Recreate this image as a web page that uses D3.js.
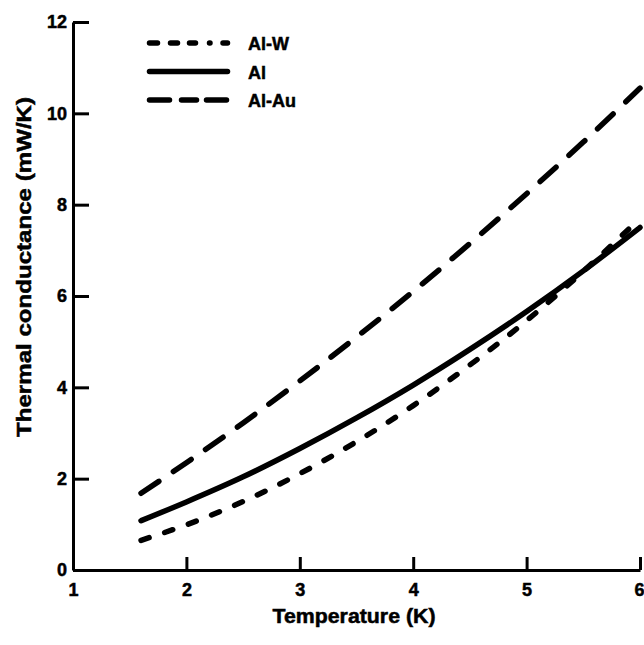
<!DOCTYPE html>
<html>
<head>
<meta charset="utf-8">
<script src="https://cdn.jsdelivr.net/npm/d3@7"></script>
<style>
  body { margin: 0; background: #fff; }
  text { font-family: "Liberation Sans", Arial, sans-serif; font-weight: bold; fill: #000; stroke: #000; stroke-width: 0.5px; }
</style>
</head>
<body>
<div id="chart"></div>
<script>
// values
var temps   = [1.6, 2, 2.5, 3, 3.5, 4, 4.5, 5, 5.5, 6];
var alW     = [0.65, 0.99, 1.5, 2.11, 2.81, 3.6, 4.49, 5.46, 6.54, 7.7];
var al      = [1.08, 1.49, 2.04, 2.66, 3.33, 4.05, 4.83, 5.66, 6.55, 7.5];
var alAu    = [1.68, 2.35, 3.22, 4.14, 5.1, 6.1, 7.15, 8.24, 9.37, 10.55];
var seriesNames = ["Al-W", "Al", "Al-Au"];
var xTicks = [1, 2, 3, 4, 5, 6];
var yTicks = [0, 2, 4, 6, 8, 10, 12];

var width = 644, height = 645;
var svg = d3.select("#chart").append("svg").attr("width", width).attr("height", height);

var x = d3.scaleLinear().domain([1, 6]).range([73, 640]);
var y = d3.scaleLinear().domain([0, 12]).range([570, 22]);

// axes, ticks point inward
var xAxis = d3.axisBottom(x).tickValues(xTicks).tickSizeInner(-13).tickSizeOuter(0).tickPadding(9).tickFormat(d3.format("d"));
var yAxis = d3.axisLeft(y).tickValues(yTicks).tickSizeInner(-16).tickSizeOuter(0).tickPadding(6).tickFormat(d3.format("d"));

var gx = svg.append("g").attr("transform", "translate(0," + y(0) + ")").call(xAxis);
var gy = svg.append("g").attr("transform", "translate(" + x(1) + ",0)").call(yAxis);

[gx, gy].forEach(function(g) {
  g.select(".domain").attr("stroke", "#000").attr("stroke-width", 3);
  g.selectAll(".tick line").attr("stroke", "#000").attr("stroke-width", 3);
  g.selectAll(".tick text").style("font-size", "18px").style("font-family", "'Liberation Sans', Arial, sans-serif").style("font-weight", "bold").attr("fill", "#000");
});
gx.selectAll(".tick text").attr("dy", "0.95em");
// last label sits at the right edge
gx.selectAll(".tick text").filter(function(d) { return d === 6; }).attr("text-anchor", "end").attr("x", 4);

// axis titles
svg.append("text")
  .attr("x", 354).attr("y", 623)
  .attr("text-anchor", "middle")
  .attr("textLength", 163).attr("lengthAdjust", "spacingAndGlyphs")
  .style("font-size", "20px")
  .text("Temperature (K)");

svg.append("text")
  .attr("transform", "translate(31,267) rotate(-90)")
  .attr("text-anchor", "middle")
  .attr("textLength", 340).attr("lengthAdjust", "spacingAndGlyphs")
  .style("font-size", "20px")
  .text("Thermal conductance (mW/K)");

// curves
var line = d3.line()
  .x(function(d) { return x(d[0]); })
  .y(function(d) { return y(d[1]); })
  .curve(d3.curveMonotoneX);

var curves = [
  { name: seriesNames[0], vals: alW,  dash: "8.5,16.5" },
  { name: seriesNames[1], vals: al,   dash: null },
  { name: seriesNames[2], vals: alAu, dash: "21.5,17.5" }
];

curves.forEach(function(c) {
  svg.append("path")
    .datum(temps.map(function(t, i) { return [t, c.vals[i]]; }))
    .attr("d", line)
    .attr("fill", "none")
    .attr("stroke", "#000")
    .attr("stroke-width", 5.5)
    .attr("stroke-linecap", "round")
    .attr("stroke-dasharray", c.dash);
});

// legend
var legendDash = ["8,13,7,12,6,14,0.5,13,7,20", null, "20,12,15,10,20,20"];
var lg = svg.append("g");
seriesNames.forEach(function(n, i) {
  var ly = 43 + i * 28.5;
  lg.append("line")
    .attr("x1", 149.5).attr("x2", 227.5)
    .attr("y1", ly).attr("y2", ly)
    .attr("stroke", "#000").attr("stroke-width", 5.5)
    .attr("stroke-linecap", "round")
    .attr("stroke-dasharray", legendDash[i]);
  lg.append("text")
    .attr("x", 248).attr("y", ly + 7)
    .style("font-size", "18px")
    .text(n);
});
</script>
</body>
</html>
